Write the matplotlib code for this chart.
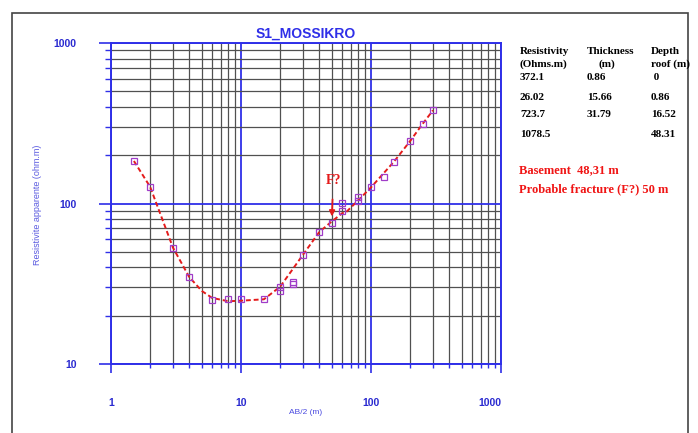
import matplotlib.pyplot as plt
from matplotlib.patches import Rectangle
from matplotlib.ticker import FixedLocator, LogLocator, NullFormatter

# mesures de terrain (AB/2 en m, resistivite apparente en ohm.m)
ab2 = [1.5, 2, 3, 4, 6, 8, 10, 15, 20, 20, 25, 25, 30, 40, 50, 60, 60, 80, 80,
       100, 125, 150, 200, 250, 300]
rho_app = [184, 127, 53, 34.8, 24.9, 25.3, 25.3, 25.3, 30.2, 28.5, 32.6, 31.4, 48,
           66.4, 75.9, 90.2, 101, 110, 104, 126, 147, 182, 245, 314, 381]

# courbe du modele
model_ab2 = [1.5, 2, 3, 4, 5, 6, 8, 10, 15, 20, 25, 30, 40, 50, 60, 65, 80, 100,
             150, 200, 250, 300]
model_rho = [184, 127, 53, 34.8, 28.5, 25.8, 24.6, 24.8, 25.3, 30.3, 39, 48, 66.4,
             77.4, 86.9, 89, 105, 126, 182, 245, 314, 381]

# resultats de l'inversion
col_res = ["372.1", "26.02", "723.7", "1078.5"]
col_thick = ["0.86", "15.66", "31.79", ""]
col_depth = [" 0", "0.86", "16.52", "48.31"]

fracture_x = 50
fracture_y = 83

blue = "#2f2fe8"
txt_blue = "#2a2ad0"
W, H = 698, 433

fig = plt.figure(figsize=(6.98, 4.33), dpi=100)
ax = fig.add_axes([111 / W, 1 - 364 / H, 390 / W, 321 / H])

ax.set_xscale("log")
ax.set_yscale("log")
ax.set_xlim(1, 1000)
ax.set_ylim(10, 1000)

# grille : majeure en bleu, mineure en gris
ax.xaxis.set_minor_locator(LogLocator(base=10, subs=range(2, 10)))
ax.yaxis.set_minor_locator(LogLocator(base=10, subs=range(2, 10)))
ax.xaxis.set_minor_formatter(NullFormatter())
ax.yaxis.set_minor_formatter(NullFormatter())
ax.grid(which="minor", color="#505050", linewidth=0.9)
ax.grid(which="major", color=blue, linewidth=1.3)
ax.set_axisbelow(True)

for s in ax.spines.values():
    s.set_color(blue)
    s.set_linewidth(1.4)

ax.xaxis.set_major_locator(FixedLocator([1, 10, 100, 1000]))
ax.yaxis.set_major_locator(FixedLocator([10, 100, 1000]))
ax.set_xticklabels(["1", "10", "100", "1000"])
ax.set_yticklabels(["10", "100", "1000"])
ax.xaxis.get_majorticklabels()[-1].set_horizontalalignment("right")

ax.tick_params(axis="x", which="major", direction="out", length=6.5, width=1.2,
               color=blue, pad=18, labelsize=7.5, labelcolor=txt_blue)
ax.tick_params(axis="x", which="minor", direction="out", length=3, width=1,
               color=blue)
ax.tick_params(axis="y", which="major", direction="out", length=8.6, width=1.2,
               color=blue, pad=16, labelsize=7.5, labelcolor=txt_blue)
ax.tick_params(axis="y", which="minor", direction="out", length=4.3, width=1,
               color=blue)
for lab in ax.get_xticklabels() + ax.get_yticklabels():
    lab.set_fontweight("bold")
    lab.set_family("Liberation Sans")

# donnees et modele
ax.plot(model_ab2, model_rho, color="#e41b1b", linestyle="--", linewidth=1.4,
        dashes=(2.5, 1.5), zorder=3)
ax.plot(ab2, rho_app, linestyle="none", marker="s", markersize=4,
        markerfacecolor="none", markeredgecolor="#a03cc8", markeredgewidth=0.9,
        zorder=4)

ax.annotate("F?", xy=(fracture_x, fracture_y), xytext=(1, 26),
            textcoords="offset points", ha="center", va="center",
            color="#e41b1b", fontsize=10, fontweight="bold",
            family="Liberation Serif",
            arrowprops=dict(arrowstyle="-|>", color="#e41b1b", lw=1.3,
                            shrinkA=7, shrinkB=0, mutation_scale=8))

ax.set_title("S1_MOSSIKRO", color=blue, fontsize=10, fontweight="bold",
             family="Liberation Sans", pad=4)
ax.set_xlabel("AB/2 (m)", color="#4a4ae0", fontsize=6, family="Liberation Sans",
              labelpad=1)
fig.text(37 / W, 1 - 205 / H, "Resistivite apparente (ohm.m)", rotation=90,
         ha="center", va="center", color="#5a5ae0", fontsize=6.5,
         family="Liberation Sans")

# cadre exterieur
fig.patches.append(Rectangle((12 / W, -0.02), 676 / W, 1.02 - 13 / H,
                             transform=fig.transFigure, fill=False,
                             edgecolor="#444444", linewidth=1.2))

# tableau des couches
serif = dict(family="Liberation Serif", fontweight="bold", fontsize=8,
             color="black", va="center")
fig.text(520 / W, 1 - 52 / H, "Resistivity", **serif)
fig.text(520 / W, 1 - 64 / H, "(Ohms.m)", **serif)
fig.text(587 / W, 1 - 52 / H, "Thickness", **serif)
fig.text(607 / W, 1 - 64 / H, "(m)", ha="center", **serif)
fig.text(651 / W, 1 - 52 / H, "Depth", **serif)
fig.text(651 / W, 1 - 64 / H, "roof (m)", **serif)
row_y = [78, 97, 115, 134]
for i in range(len(col_res)):
    fig.text(520 / W, 1 - row_y[i] / H, col_res[i], **serif)
    fig.text(587 / W, 1 - row_y[i] / H, col_thick[i], **serif)
    fig.text(651 / W, 1 - row_y[i] / H, col_depth[i], **serif)

red = dict(family="Liberation Serif", fontweight="bold", fontsize=9,
           color="#f01515", va="center")
fig.text(519 / W, 1 - 170 / H, "Basement  48,31 m", **red)
fig.text(519 / W, 1 - 189 / H, "Probable fracture (F?) 50 m", **red)

fig.savefig("out.png", dpi=100)
